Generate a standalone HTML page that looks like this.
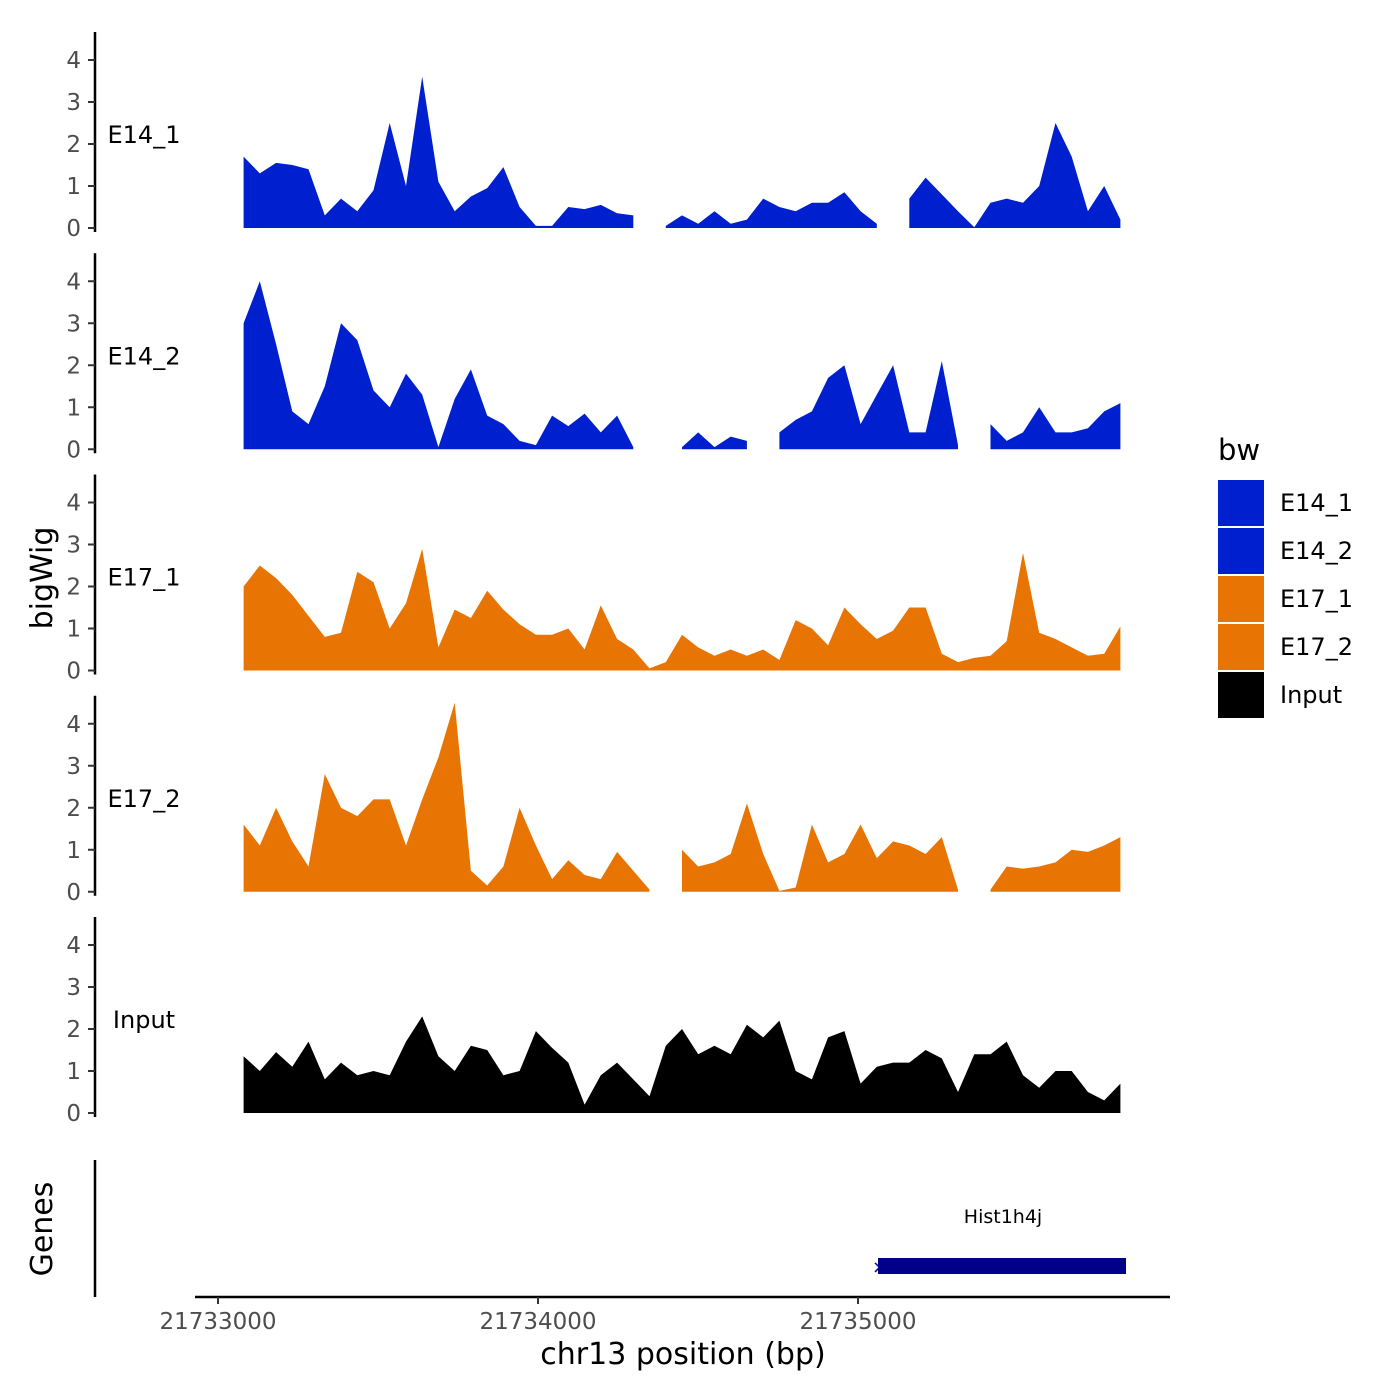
<!DOCTYPE html>
<html><head><meta charset="utf-8"><style>
html,body{margin:0;padding:0;background:#fff;}
svg{display:block;font-family:"DejaVu Sans","Liberation Sans",sans-serif;}
</style></head><body>
<svg id="chart" width="1400" height="1400" viewBox="0 0 1400 1400">
<rect width="1400" height="1400" fill="#fff"/>
<g id="tracks"></g>
<g id="genes">
  <line x1="95" y1="1160" x2="95" y2="1297" stroke="#000" stroke-width="2.5"/>
  <text x="52" y="1229" font-size="30" transform="rotate(-90 52 1229)" text-anchor="middle">Genes</text>
  <rect x="878" y="1258" width="248" height="16" fill="#00008B"/>
  <text x="872" y="1273" font-size="18" fill="#00008B">×</text>
  <text x="1003" y="1223" font-size="19" text-anchor="middle">Hist1h4j</text>
</g>
<g id="xaxis">
  <line x1="195" y1="1297" x2="1170" y2="1297" stroke="#000" stroke-width="2.5"/>
</g>
<text x="683" y="1364" font-size="30" text-anchor="middle">chr13 position (bp)</text>
<text x="52" y="578" font-size="30" transform="rotate(-90 52 578)" text-anchor="middle">bigWig</text>
<g id="legend">
  <text x="1218" y="460" font-size="29">bw</text>
</g>
</svg>
<script>
const trackNames = ["E14_1","E14_2","E17_1","E17_2","Input"];
const trackColors = ["#0020CF","#0020CF","#E87503","#E87503","#000000"];
const startBp = 21733080, endBp = 21735820;
const xTicks = [21733000, 21734000, 21735000];
const yTicks = [0,1,2,3,4];
const e14_1 = [1.7,1.3,1.55,1.5,1.4,0.3,0.7,0.4,0.9,2.5,1.0,3.6,1.1,0.4,0.75,0.95,1.45,0.5,0.05,0.05,0.5,0.45,0.55,0.35,0.3,null,0.05,0.3,0.1,0.4,0.1,0.2,0.7,0.5,0.4,0.6,0.6,0.85,0.4,0.1,null,0.7,1.2,0.8,0.4,0.02,0.6,0.7,0.6,1.0,2.5,1.7,0.4,1.0,0.2];
const e14_2 = [3.0,4.0,2.5,0.9,0.6,1.5,3.0,2.6,1.4,1.0,1.8,1.3,0.05,1.2,1.9,0.8,0.6,0.2,0.1,0.8,0.55,0.85,0.4,0.8,0.05,null,null,0.05,0.4,0.05,0.3,0.2,null,0.4,0.7,0.9,1.7,2.0,0.6,1.3,2.0,0.4,0.4,2.1,0.1,null,0.6,0.2,0.4,1.0,0.4,0.4,0.5,0.9,1.1];
const e17_1 = [2.0,2.5,2.2,1.8,1.3,0.8,0.9,2.35,2.1,1.0,1.6,2.9,0.55,1.45,1.25,1.9,1.45,1.1,0.85,0.85,1.0,0.5,1.55,0.75,0.5,0.05,0.2,0.85,0.55,0.35,0.5,0.35,0.5,0.25,1.2,1.0,0.6,1.5,1.1,0.75,0.95,1.5,1.5,0.4,0.2,0.3,0.35,0.7,2.8,0.9,0.75,0.55,0.35,0.4,1.05];
const e17_2 = [1.6,1.1,2.0,1.2,0.6,2.8,2.0,1.8,2.2,2.2,1.1,2.2,3.2,4.5,0.5,0.15,0.6,2.0,1.1,0.3,0.75,0.4,0.3,0.95,0.5,0.05,null,1.0,0.6,0.7,0.9,2.1,0.9,0.02,0.1,1.6,0.7,0.9,1.6,0.8,1.2,1.1,0.9,1.3,0.05,null,0.05,0.6,0.55,0.6,0.7,1.0,0.95,1.1,1.3];
const inputVals = [1.35,1.0,1.45,1.1,1.7,0.8,1.2,0.9,1.0,0.9,1.7,2.3,1.35,1.0,1.6,1.5,0.9,1.0,1.95,1.55,1.2,0.2,0.9,1.2,0.8,0.4,1.6,2.0,1.4,1.6,1.4,2.1,1.8,2.2,1.0,0.8,1.8,1.95,0.7,1.1,1.2,1.2,1.5,1.3,0.5,1.4,1.4,1.7,0.9,0.6,1.0,1.0,0.5,0.3,0.7];
const trackValues = [e14_1,e14_2,e17_1,e17_2,inputVals];

const NS="http://www.w3.org/2000/svg";
function xScale(bp){return 218+(bp-21733000)*0.32;}
function yScale(v,panel){return 228+panel*221.25 - v*42;}
function mk(tag,attrs,parent){const e=document.createElementNS(NS,tag);for(const k in attrs)e.setAttribute(k,attrs[k]);parent.appendChild(e);return e;}
const tracks=document.getElementById('tracks');
trackValues.forEach((vals,p)=>{
  const g=mk('g',{},tracks);
  
  
  const top=32+p*221.25, bot=232+p*221.25;
  const ax=mk('line',{x1:95,y1:top,x2:95,y2:bot,stroke:'#000','stroke-width':2.5},g);
  
  
  yTicks.forEach(t=>{
    const y=yScale(t,p);
    const tk=mk('line',{x1:88,y1:y,x2:95,y2:y,stroke:'#333','stroke-width':2},g);
    
    
    const tl=mk('text',{x:81,y:y+8,'font-size':23,fill:'#4d4d4d','text-anchor':'end'},g);
    tl.textContent=t;
    
    
  });
  const lab=mk('text',{x:144,y:yScale(2.0,p)-1,'font-size':24,'text-anchor':'middle'},g);
  lab.textContent=trackNames[p];
  
  
  const n=vals.length, step=(endBp-startBp)/(n-1);
  const y0=yScale(0,p);
  let segs=[],cur=[];
  vals.forEach((v,i)=>{ if(v===null){if(cur.length)segs.push(cur);cur=[];} else cur.push([xScale(startBp+i*step),yScale(v,p)]); });
  if(cur.length)segs.push(cur);
  segs.forEach(s=>{
    let d='M'+s[0][0].toFixed(1)+','+y0;
    s.forEach(pt=>{d+=' L'+pt[0].toFixed(1)+','+pt[1].toFixed(1);});
    d+=' L'+s[s.length-1][0].toFixed(1)+','+y0+' Z';
    const a=mk('path',{d:d,fill:trackColors[p]},g);
    
    
  });
});
const xa=document.getElementById('xaxis');
xTicks.forEach(t=>{
  const x=xScale(t);
  const tk=mk('line',{x1:x,y1:1297,x2:x,y2:1304,stroke:'#333','stroke-width':2},xa);
  
  
  const tl=mk('text',{x:x,y:1329,'font-size':23,fill:'#4d4d4d','text-anchor':'middle'},xa);
  tl.textContent=t;
  
  
});
const lg=document.getElementById('legend');
trackNames.forEach((nm,i)=>{
  const y=480+i*48;
  const r=mk('rect',{x:1218,y:y,width:46,height:46,fill:trackColors[i]},lg);
  
  
  const t=mk('text',{x:1280,y:y+31,'font-size':24},lg);
  t.textContent=nm;
  
  
});
</script>
</body></html>
